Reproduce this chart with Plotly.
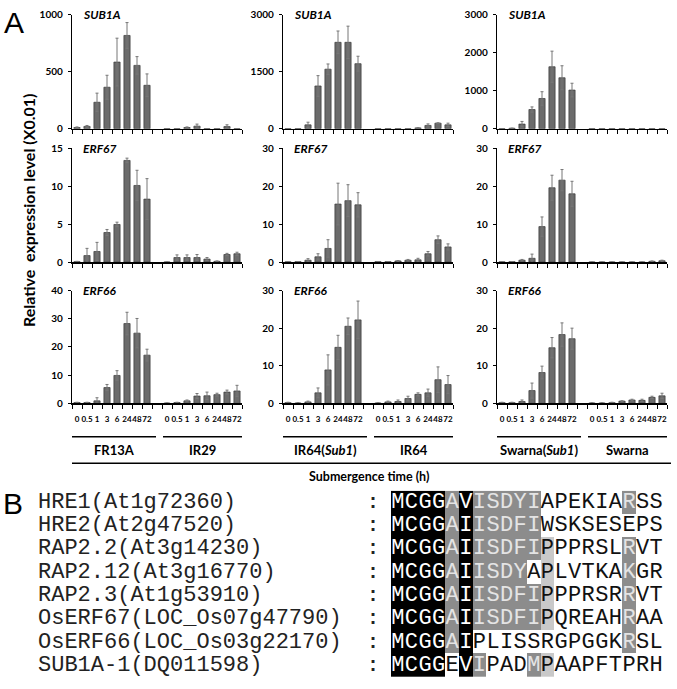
import plotly.graph_objects as go

W, H = 677, 689

# ---------------- Panel A data ----------------
times = ["0", "0.5", "1", "3", "6", "24", "48", "72"]
genes = ["SUB1A", "ERF67", "ERF66"]
tolerant = ["FR13A", "IR64(<i>Sub1</i>)", "Swarna(<i>Sub1</i>)"]
intolerant = ["IR29", "IR64", "Swarna"]

# SUB1A
sub1a_fr13a = [10, 20, 232, 364, 585, 819, 556, 381]
sub1a_fr13a_err = [5, 8, 80, 105, 210, 113, 77, 100]
sub1a_ir29 = [0, 0, 10, 22, 0, 0, 18, 0]
sub1a_ir29_err = [0, 0, 5, 18, 0, 0, 16, 0]
sub1a_ir64sub1 = [0, 0, 100, 1125, 1568, 2276, 2276, 1713]
sub1a_ir64sub1_err = [0, 0, 70, 273, 137, 298, 426, 196]
sub1a_ir64 = [0, 0, 0, 0, 20, 85, 145, 100]
sub1a_ir64_err = [0, 0, 0, 0, 5, 40, 10, 45]
sub1a_swsub1 = [0, 10, 120, 504, 795, 1632, 1342, 1017]
sub1a_swsub1_err = [0, 5, 70, 69, 179, 411, 316, 180]
sub1a_sw = [0, 0, 0, 0, 0, 0, 0, 0]
sub1a_sw_err = [0, 0, 0, 0, 0, 0, 0, 0]

# ERF67
erf67_fr13a = [0.05, 0.86, 1.4, 3.9, 4.96, 13.4, 10.1, 8.3]
erf67_fr13a_err = [0.05, 0.95, 1.2, 0.4, 0.3, 0.3, 2.0, 2.7]
erf67_ir29 = [0, 0.6, 0.6, 0.6, 0.4, 0.1, 1.0, 1.1]
erf67_ir29_err = [0, 0.35, 0.35, 0.4, 0.2, 0.05, 0.15, 0.2]
erf67_ir64sub1 = [0.05, 0.1, 0.5, 1.4, 3.6, 15.3, 16.2, 15.1]
erf67_ir64sub1_err = [0.05, 0.05, 0.4, 0.8, 2.3, 5.5, 4.2, 3.2]
erf67_ir64 = [0.1, 0.1, 0.3, 0.5, 0.6, 2.2, 5.9, 4.0]
erf67_ir64_err = [0.05, 0.05, 0.1, 0.2, 0.4, 0.6, 1.0, 0.8]
erf67_swsub1 = [0.05, 0.1, 0.5, 1.0, 9.35, 19.6, 21.6, 18.0]
erf67_swsub1_err = [0.05, 0.05, 0.2, 1.1, 2.55, 3.3, 2.8, 3.3]
erf67_sw = [0, 0, 0, 0, 0, 0, 0.2, 0.35]
erf67_sw_err = [0, 0, 0, 0, 0, 0, 0.1, 0.15]

# ERF66
erf66_fr13a = [0.3, 0.3, 0.9, 5.6, 9.9, 28.3, 24.9, 17.1]
erf66_fr13a_err = [0.1, 0.1, 1.1, 1.1, 1.7, 4.0, 5.2, 2.1]
erf66_ir29 = [0.1, 0.3, 0.9, 2.6, 2.7, 3.1, 4.0, 4.4]
erf66_ir29_err = [0.05, 0.1, 0.3, 0.9, 1.3, 0.5, 0.7, 2.0]
erf66_ir64sub1 = [0.2, 0.1, 0.4, 2.8, 8.9, 14.9, 20.5, 22.2]
erf66_ir64sub1_err = [0.1, 0.1, 0.2, 1.3, 4.0, 3.2, 2.2, 5.0]
erf66_ir64 = [0.1, 0.4, 0.5, 1.3, 2.4, 2.8, 6.3, 5.0]
erf66_ir64_err = [0.05, 0.2, 0.4, 0.6, 0.4, 1.0, 3.4, 2.4]
erf66_swsub1 = [0.2, 0.2, 0.5, 3.4, 8.2, 14.8, 18.3, 17.2]
erf66_swsub1_err = [0.1, 0.1, 0.4, 2.0, 1.7, 2.7, 3.1, 2.8]
erf66_sw = [0.1, 0.1, 0.2, 0.6, 0.9, 0.8, 1.6, 2.0]
erf66_sw_err = [0.05, 0.05, 0.1, 0.1, 0.2, 0.3, 0.3, 0.7]

y_max = [[1000, 3000, 3000], [15, 30, 30], [40, 30, 30]]
y_ticks = [[[0, 500, 1000], [0, 1500, 3000], [0, 1000, 2000, 3000]],
           [[0, 5, 10, 15], [0, 10, 20, 30], [0, 10, 20, 30]],
           [[0, 10, 20, 30, 40], [0, 10, 20, 30], [0, 10, 20, 30]]]

panels = [
    [(sub1a_fr13a, sub1a_fr13a_err, sub1a_ir29, sub1a_ir29_err),
     (sub1a_ir64sub1, sub1a_ir64sub1_err, sub1a_ir64, sub1a_ir64_err),
     (sub1a_swsub1, sub1a_swsub1_err, sub1a_sw, sub1a_sw_err)],
    [(erf67_fr13a, erf67_fr13a_err, erf67_ir29, erf67_ir29_err),
     (erf67_ir64sub1, erf67_ir64sub1_err, erf67_ir64, erf67_ir64_err),
     (erf67_swsub1, erf67_swsub1_err, erf67_sw, erf67_sw_err)],
    [(erf66_fr13a, erf66_fr13a_err, erf66_ir29, erf66_ir29_err),
     (erf66_ir64sub1, erf66_ir64sub1_err, erf66_ir64, erf66_ir64_err),
     (erf66_swsub1, erf66_swsub1_err, erf66_sw, erf66_sw_err)],
]

# ---------------- Panel B data ----------------
prot_names = ["HRE1(At1g72360)", "HRE2(At2g47520)", "RAP2.2(At3g14230)",
              "RAP2.12(At3g16770)", "RAP2.3(At1g53910)",
              "OsERF67(LOC_Os07g47790)", "OsERF66(LOC_Os03g22170)",
              "SUB1A-1(DQ011598)"]
sequences = ["MCGGAVISDYIAPEKIARSS", "MCGGAIISDFIWSKSESEPS",
             "MCGGAIISDFIPPPRSLRVT", "MCGGAIISDYAPLVTKAKGR",
             "MCGGAIISDFIPPPRSRRVT", "MCGGAIISDFIPQREAHRAA",
             "MCGGAIPLISSRGPGGKRSL", "MCGGEVIPADMPAAPFTPRH"]
shading = ["33332322222000000200", "33332322222000000000",
           "33332322222100000200", "33332322220100000200",
           "33332322222100000200", "33332322222100000200",
           "33332300000000000200", "33330320002100000000"]

# ---------------- layout helpers ----------------
def px_x(v):
    return v / W

def px_y(v):
    return 1 - v / H

xdom = [(72, 242), (283, 453), (497, 667)]
ydom = [(8, 124), (144, 260), (289, 404)]

pos = list(range(8)) + list(range(9, 17))
cat_labels = times + [""] + times            # one label per category slot 0..16
bounds = [i - 0.5 for i in range(18)]        # tick marks between categories
bound_text = cat_labels + [""]

fig = go.Figure()
layout = dict(width=W, height=H, margin=dict(l=0, r=0, t=0, b=0),
              paper_bgcolor="white", plot_bgcolor="white", showlegend=False)
annotations = []
shapes = []

LBL = "Lato"


def ann(**kw):
    d = dict(showarrow=False, xanchor="center", yanchor="middle")
    d.update(kw)
    annotations.append(d)


for r in range(3):
    for c in range(3):
        n = r * 3 + c + 1
        xa = f"x{n}" if n > 1 else "x"
        ya = f"y{n}" if n > 1 else "y"
        tv, te, iv, ie = panels[r][c]
        fig.add_trace(go.Bar(
            x=pos, y=list(tv) + list(iv), xaxis=xa, yaxis=ya, width=0.62,
            marker=dict(color="#6b6b6b", line=dict(color="#3a3a3a", width=0.7)),
            error_y=dict(type="data", array=list(te) + list(ie), visible=True,
                         color="#777777", thickness=1, width=1.5)))
        key = "" if n == 1 else str(n)
        layout["xaxis" + key] = dict(
            domain=[px_x(xdom[c][0]), px_x(xdom[c][1])], anchor=ya,
            range=[-0.5, 16.5], showline=True, linecolor="black", linewidth=1.5,
            showgrid=False, zeroline=False,
            tickmode="array", tickvals=bounds, ticktext=bound_text,
            ticks="outside", ticklen=4, tickcolor="black", tickwidth=1,
            ticklabelshift=5, ticklabelstandoff=4, tickangle=0,
            showticklabels=(r == 2),
            tickfont=dict(family=LBL, size=8, color="black", weight="bold"),
            fixedrange=True)
        layout["yaxis" + key] = dict(
            domain=[px_y(ydom[r][1]), px_y(ydom[r][0])], anchor=xa,
            range=[0, y_max[r][c]], tickmode="array", tickvals=y_ticks[r][c],
            showline=True, linecolor="black", linewidth=1.2, showgrid=False,
            zeroline=False, ticks="outside", ticklen=3, tickcolor="black",
            ticklabelstandoff=3,
            tickfont=dict(family=LBL, size=10, color="black", weight="bold"),
            fixedrange=True)
        ann(xref=f"{xa} domain", yref=f"{ya} domain", x=0.05, y=1.0,
            xanchor="left", text=f"<b><i>{genes[r]}</i></b>",
            font=dict(family=LBL, size=12, color="black"))

# group lines and labels under bottom row
for c in range(3):
    xa = f"x{7 + c}"
    for (x0, x1, lab) in [(-0.5, 7.9, tolerant[c]), (8.6, 16.5, intolerant[c])]:
        shapes.append(dict(type="line", xref=xa, yref="paper", x0=x0, x1=x1,
                           y0=px_y(438), y1=px_y(438),
                           line=dict(color="black", width=1.5)))
        ann(xref=xa, yref="paper", x=(x0 + x1) / 2, y=px_y(452),
            text=f"<b>{lab}</b>", font=dict(family=LBL, size=13, color="black"))
shapes.append(dict(type="line", xref="paper", yref="paper", x0=px_x(72),
                   x1=px_x(671), y0=px_y(465), y1=px_y(465),
                   line=dict(color="black", width=1.5)))
ann(xref="paper", yref="paper", x=px_x(369), y=px_y(479),
    text="<b>Submergence time (h)</b>",
    font=dict(family=LBL, size=12.5, color="black"))
ann(xref="paper", yref="paper", x=px_x(28), y=px_y(207), textangle=-90,
    text="<b>Relative\u00a0 expression level (X0.01)</b>",
    font=dict(family=LBL, size=16, color="black"))
ann(xref="paper", yref="paper", x=px_x(14), y=px_y(16), text="A",
    font=dict(family="Liberation Sans", size=30, color="black"))
ann(xref="paper", yref="paper", x=px_x(13), y=px_y(506), text="B",
    font=dict(family="Liberation Sans", size=30, color="black"))

# ---------------- Panel B ----------------
z = [[int(ch) for ch in s] for s in shading]
fig.add_trace(go.Heatmap(
    z=z, x=list(range(20)), y=list(range(8)), xaxis="x10", yaxis="y10",
    zmin=0, zmax=3, showscale=False, hoverinfo="skip",
    colorscale=[[0, "#ffffff"], [1 / 3, "#c9c9c9"], [2 / 3, "#8c8c8c"], [1, "#000000"]]))
tx, ty, tt, tc = [], [], [], []
col_for = {"3": "#ffffff", "2": "#e4e4e4", "1": "#111111", "0": "#111111"}
for i, (seq, sh) in enumerate(zip(sequences, shading)):
    for j, (ch, s) in enumerate(zip(seq, sh)):
        tx.append(j); ty.append(i); tt.append(ch); tc.append(col_for[s])
fig.add_trace(go.Scatter(
    x=tx, y=ty, text=tt, mode="text", xaxis="x10", yaxis="y10",
    textfont=dict(family="Liberation Mono", size=22, color=tc),
    textposition="middle center", hoverinfo="skip"))
layout["xaxis10"] = dict(domain=[px_x(391), px_x(663)], anchor="y10",
                         range=[-0.5, 19.5], visible=False, fixedrange=True)
layout["yaxis10"] = dict(domain=[px_y(683), px_y(493)], anchor="x10",
                         range=[7.5, -0.5], visible=False, fixedrange=True)
for i, nm in enumerate(prot_names):
    ann(xref="paper", yref="y10", x=px_x(36), y=i, xanchor="left", text=nm,
        font=dict(family="Liberation Mono", size=22, color="#222222"))
    ann(xref="paper", yref="y10", x=px_x(373), y=i, text="<b>:</b>",
        font=dict(family="Liberation Mono", size=20, color="#222222"))

layout["annotations"] = annotations
layout["shapes"] = shapes
fig.update_layout(**layout)
# remove the default 8px page margin so the figure sits at the window's corner
fig.write_html("out.html",
               config={"displayModeBar": False, "staticPlot": True},
               post_script="document.body.style.margin='0';"
                           "document.body.style.overflow='hidden';")
